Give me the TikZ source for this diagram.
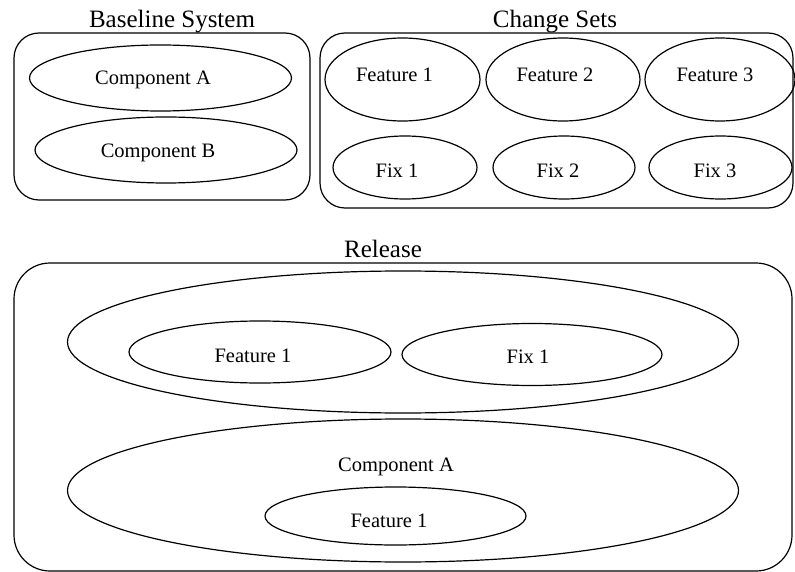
\documentclass[tikz,border=0pt]{standalone}
\usepackage{fontspec}
\setmainfont{Liberation Serif}
\usetikzlibrary{shapes.geometric}
\begin{document}
\begin{tikzpicture}[x=1pt,y=-1pt, line width=1.2pt,
  box/.style={draw, rounded corners=25pt, inner sep=0pt},
  bigbox/.style={draw, rounded corners=36pt, inner sep=0pt},
  oval/.style={draw, ellipse, inner sep=0pt},
  lbl/.style={font=\fontsize{20.5}{24}\selectfont, inner sep=0pt, anchor=base},
  ttl/.style={font=\fontsize{25}{30}\selectfont, inner sep=0pt, anchor=base}]
\useasboundingbox (0,0) rectangle (795,572);

% Baseline System
\node[box, minimum width=296pt, minimum height=167pt] (basebox) at (162,116.5) {};
\node[ttl] (basettl) at (172,28) {Baseline System};
\node[oval, minimum width=262pt, minimum height=66pt] (compA) at (160.5,78) {};
\node[lbl] (compAt) at (153,84.5) {Component A};
\node[oval, minimum width=262pt, minimum height=66pt] (compB) at (166,150) {};
\node[lbl] (compBt) at (158,158) {Component B};

% Change Sets
\node[box, minimum width=473pt, minimum height=175pt] (csbox) at (556.5,120.5) {};
\node[ttl] (csttl) at (555,27.5) {Change Sets};
\node[oval, minimum width=155pt, minimum height=83pt] (f1) at (402.5,79.5) {};
\node[lbl] (f1t) at (394.5,82) {Feature 1};
\node[oval, minimum width=154pt, minimum height=83pt] (f2) at (563,79.5) {};
\node[lbl] (f2t) at (555,82) {Feature 2};
\node[oval, minimum width=150pt, minimum height=83pt] (f3) at (720,79.5) {};
\node[lbl] (f3t) at (715,82) {Feature 3};
\node[oval, minimum width=144pt, minimum height=63pt] (x1) at (405,167.5) {};
\node[lbl] (x1t) at (397,178) {Fix 1};
\node[oval, minimum width=142pt, minimum height=63pt] (x2) at (564,167.5) {};
\node[lbl] (x2t) at (558,178) {Fix 2};
\node[oval, minimum width=143pt, minimum height=63pt] (x3) at (720.5,167.5) {};
\node[lbl] (x3t) at (715,178) {Fix 3};

% Release
\node[bigbox, minimum width=778pt, minimum height=308pt] (relbox) at (403,417) {};
\node[ttl] (relttl) at (383,258) {Release};
\node[oval, minimum width=671pt, minimum height=142pt] (cset) at (403,342) {};
\node[oval, minimum width=262pt, minimum height=62pt] (rf1) at (260,352) {};
\node[lbl] (rf1t) at (253,362.5) {Feature 1};
\node[oval, minimum width=260pt, minimum height=62pt] (rx1) at (532,354.5) {};
\node[lbl] (rx1t) at (528,363) {Fix 1};
\node[oval, minimum width=671pt, minimum height=143pt] (rcomp) at (403,490.5) {};
\node[lbl] (rcompt) at (396,471.5) {Component A};
\node[oval, minimum width=261pt, minimum height=58pt] (rcf1) at (395.5,516) {};
\node[lbl] (rcf1t) at (389,527.5) {Feature 1};
\end{tikzpicture}
\end{document}
